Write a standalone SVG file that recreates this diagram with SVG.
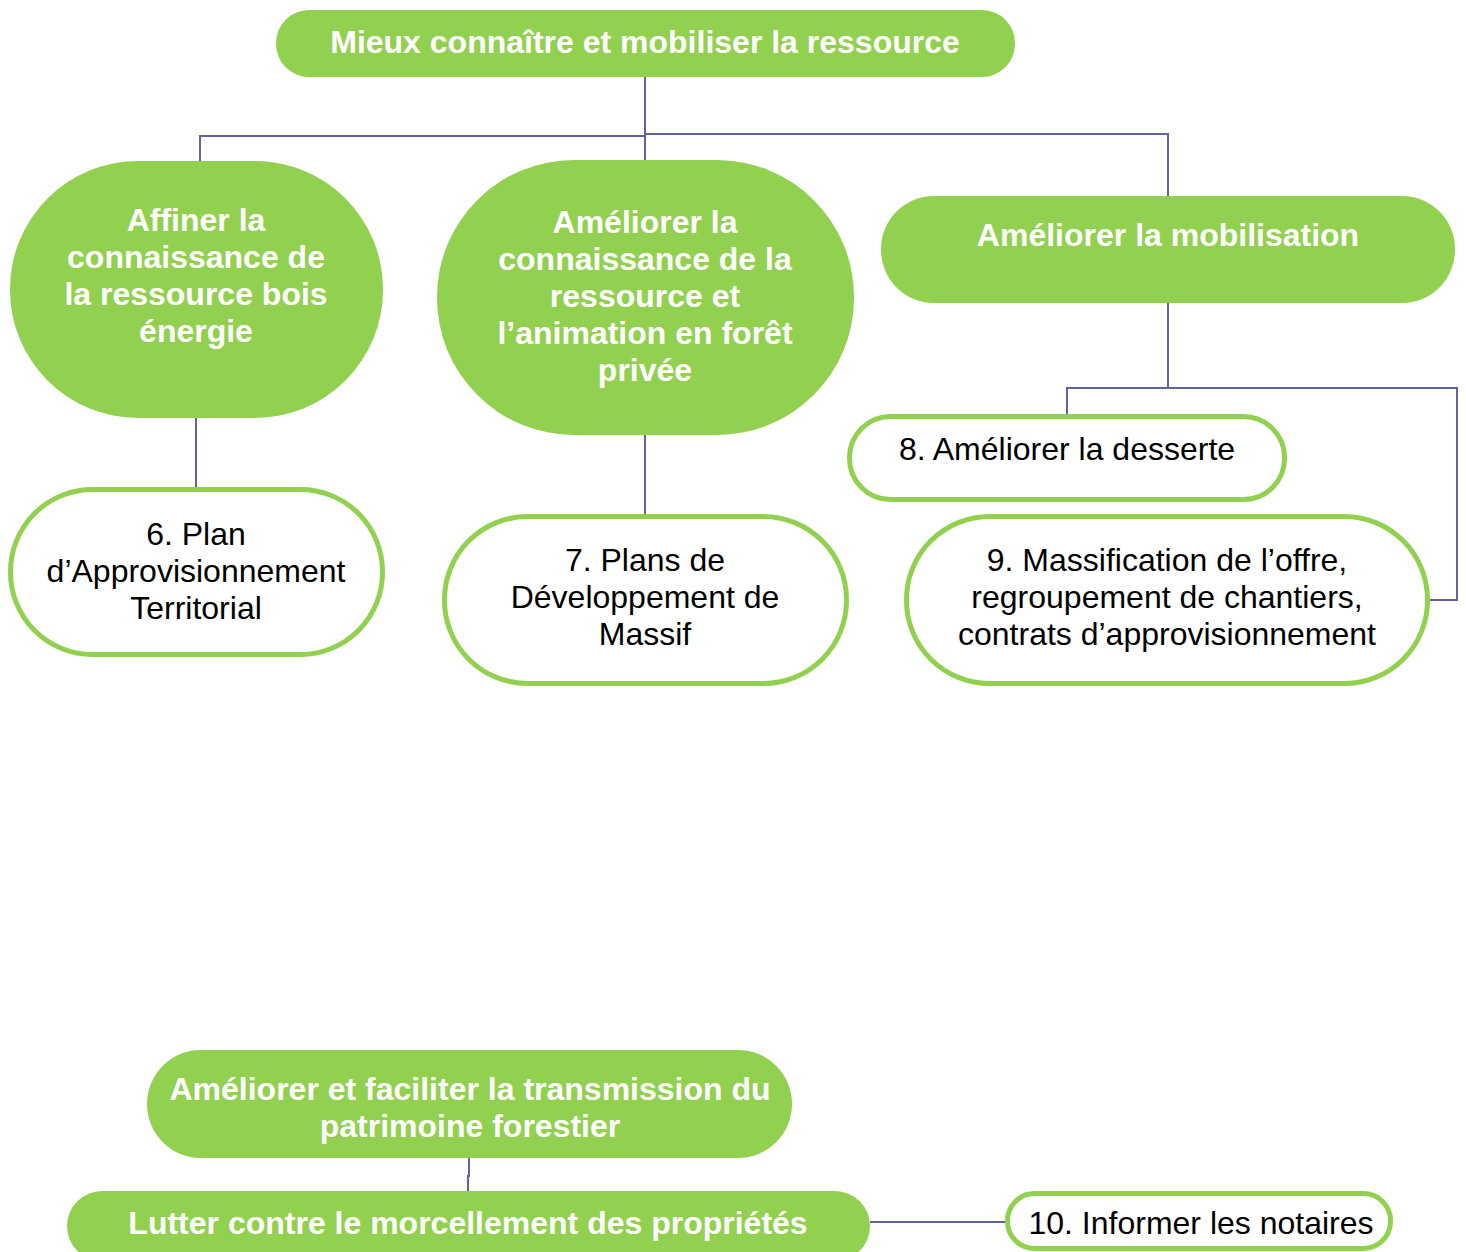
<svg xmlns="http://www.w3.org/2000/svg" width="1466" height="1252" viewBox="0 0 1466 1252">
<style>
.g{fill:#92D050;}
.w{fill:#FFFFFF;stroke:#92D050;stroke-width:5;}
.tb{font-family:"Liberation Sans",Arial,sans-serif;font-weight:bold;font-size:32px;fill:#FFFFFF;text-anchor:middle;}
.tr{font-family:"Liberation Sans",Arial,sans-serif;font-size:32px;fill:#000000;text-anchor:middle;}
.c{fill:none;stroke:#62629E;stroke-width:2;}
</style>
<rect width="1466" height="1252" fill="#FFFFFF"/>
<g id="connectors">
<path class="c" d="M645,77 V136 M200,161 V136 H645 M645,136 V160 M645,134 H1168 V196"/>
<path class="c" d="M196,418 V487"/>
<path class="c" d="M645,435 V514"/>
<path class="c" d="M1168,303 V388 M1067,414 V388 H1457 V600 H1430"/>
<path class="c" d="M469,1158 V1176 H468 V1191"/>
<path class="c" d="M870,1222 H1005"/>
</g>
<g id="n-top">
<rect class="g" x="276" y="10" width="739" height="67" rx="33"/>
<text class="tb" x="645" y="53">Mieux connaître et mobiliser la ressource</text>
</g>
<g id="n-affiner">
<rect class="g" x="10" y="161" width="373" height="257" rx="128"/>
<text class="tb" x="196" y="231">Affiner la</text>
<text class="tb" x="196" y="268">connaissance de</text>
<text class="tb" x="196" y="305">la ressource bois</text>
<text class="tb" x="196" y="342">énergie</text>
</g>
<g id="n-ameliorer-connaissance">
<rect class="g" x="437" y="160" width="417" height="275" rx="137"/>
<text class="tb" x="645" y="233">Améliorer la</text>
<text class="tb" x="645" y="270">connaissance de la</text>
<text class="tb" x="645" y="307">ressource et</text>
<text class="tb" x="645" y="344">l’animation en forêt</text>
<text class="tb" x="645" y="381">privée</text>
</g>
<g id="n-mobilisation">
<rect class="g" x="881" y="196" width="574" height="107" rx="53"/>
<text class="tb" x="1168" y="246">Améliorer la mobilisation</text>
</g>
<g id="n6">
<rect class="w" x="10.5" y="489.5" width="372" height="165" rx="82"/>
<text class="tr" x="196" y="545">6. Plan</text>
<text class="tr" x="196" y="582">d’Approvisionnement</text>
<text class="tr" x="196" y="619">Territorial</text>
</g>
<g id="n7">
<rect class="w" x="444.5" y="516.5" width="402" height="167" rx="83"/>
<text class="tr" x="645" y="571">7. Plans de</text>
<text class="tr" x="645" y="608">Développement de</text>
<text class="tr" x="645" y="645">Massif</text>
</g>
<g id="n8">
<rect class="w" x="849.5" y="416.5" width="435" height="83" rx="41"/>
<text class="tr" x="1067" y="460">8. Améliorer la desserte</text>
</g>
<g id="n9">
<rect class="w" x="906.5" y="516.5" width="521" height="167" rx="83"/>
<text class="tr" x="1167" y="571">9. Massification de l’offre,</text>
<text class="tr" x="1167" y="608">regroupement de chantiers,</text>
<text class="tr" x="1167" y="645">contrats d’approvisionnement</text>
</g>
<g id="n-transmission">
<rect class="g" x="147" y="1050" width="645" height="108" rx="54"/>
<text class="tb" x="470" y="1100">Améliorer et faciliter la transmission du</text>
<text class="tb" x="470" y="1137">patrimoine forestier</text>
</g>
<g id="n-morcellement">
<rect class="g" x="67" y="1191" width="803" height="70" rx="35"/>
<text class="tb" x="468" y="1234">Lutter contre le morcellement des propriétés</text>
</g>
<g id="n10">
<rect class="w" x="1007.5" y="1193.5" width="383" height="55" rx="27"/>
<text class="tr" x="1201" y="1234">10. Informer les notaires</text>
</g>
</svg>
